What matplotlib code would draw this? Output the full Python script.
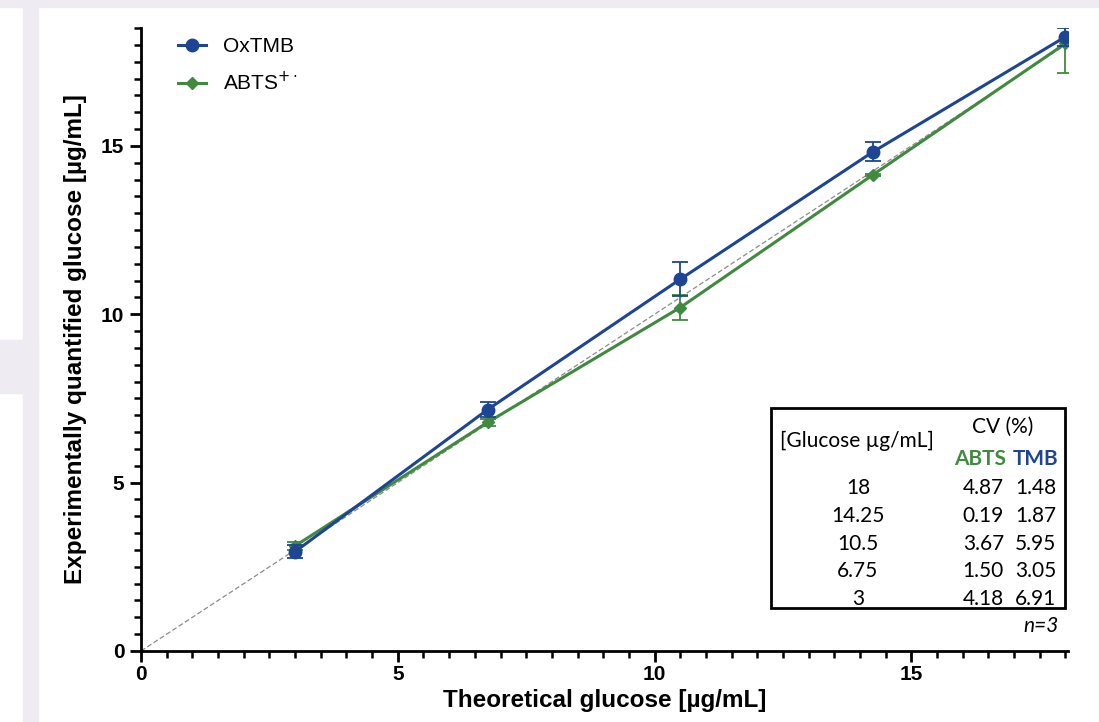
import numpy as np
import matplotlib.pyplot as plt
from matplotlib.patches import Rectangle
from matplotlib.ticker import MultipleLocator

# données
theo = [3, 6.75, 10.5, 14.25, 18]
tmb_mean = [2.95, 7.17, 11.04, 14.82, 18.24]
tmb_err = [0.20, 0.22, 0.50, 0.28, 0.27]
abts_mean = [3.12, 6.79, 10.20, 14.14, 18.04]
abts_err = [0.13, 0.10, 0.36, 0.03, 0.88]

# tableau des CV
conc_labels = ["18", "14.25", "10.5", "6.75", "3"]
cv_abts = ["4.87", "0.19", "3.67", "1.50", "4.18"]
cv_tmb = ["1.48", "1.87", "5.95", "3.05", "6.91"]

blue = "#1d4594"
green = "#3f8a3f"
lav = "#efebf3"

W, H = 1099, 722
fig = plt.figure(figsize=(W / 100, H / 100), dpi=100)
plt.rcParams['font.family'] = ['Liberation Sans', 'DejaVu Sans']

# bandes de fond (capture d'écran)
fig.patches.append(Rectangle((0, 1 - 7 / H), 1, 7 / H, transform=fig.transFigure, color=lav, zorder=0))
fig.patches.append(Rectangle((23 / W, 0), 15 / W, 1, transform=fig.transFigure, color=lav, zorder=0))
fig.patches.append(Rectangle((0, 1 - 393 / H), 38 / W, 53 / H, transform=fig.transFigure, color=lav, zorder=0))

ax = fig.add_axes([141 / W, 1 - 651 / H, (1068 - 141) / W, (651 - 28) / H])

ax.plot([0, 18], [0, 18], color="#8c8c8c", lw=0.9, ls=(0, (4, 2)), zorder=1)
ax.errorbar(theo, tmb_mean, yerr=tmb_err, fmt="none", ecolor=blue,
            capsize=6, elinewidth=1.3, capthick=1.3, zorder=3)
ax.errorbar(theo, abts_mean, yerr=abts_err, fmt="none", ecolor=green,
            capsize=6, elinewidth=1.3, capthick=1.3, zorder=2)
ax.plot(theo, tmb_mean, color=blue, lw=2.2, marker="o", ms=9, label="OxTMB", zorder=3)
ax.plot(theo, abts_mean, color=green, lw=2.2, marker="D", ms=6, label="ABTS$^{+\\cdot}$", zorder=2)

ax.set_xlim(0, 18.05)
ax.set_ylim(0, 18.5)
ax.xaxis.set_major_locator(MultipleLocator(5))
ax.xaxis.set_minor_locator(MultipleLocator(0.5))
ax.yaxis.set_major_locator(MultipleLocator(5))
ax.yaxis.set_minor_locator(MultipleLocator(0.5))
for s in ["top", "right"]:
    ax.spines[s].set_visible(False)
for s in ["left", "bottom"]:
    ax.spines[s].set_linewidth(2)
ax.tick_params(which="major", length=8, width=2, labelsize=15, pad=4)
ax.tick_params(axis="x", which="major", pad=2)
ax.tick_params(which="minor", length=5, width=1.8)
for lab in ax.get_xticklabels() + ax.get_yticklabels():
    lab.set_fontweight("bold")
ax.set_xlabel("Theoretical glucose [µg/mL]", fontsize=17.5, fontweight="bold", labelpad=4)
ax.set_ylabel("Experimentally quantified glucose [µg/mL]", fontsize=17.5, fontweight="bold", labelpad=10)

leg = ax.legend(loc="upper left", bbox_to_anchor=(0.02, 1.015), frameon=False, fontsize=15,
                handlelength=1.35, labelspacing=0.7, handletextpad=0.8)

# tableau CV
fig.patches.append(Rectangle((771 / W, 1 - 608 / H), (1065 - 771) / W, 200 / H,
                             transform=fig.transFigure, fill=False, ec="black", lw=2, zorder=5))
tf = ['Lato', 'DejaVu Sans']
def ftext(x, y, s, **kw):
    fig.text(x / W, 1 - y / H, s, family=tf, fontsize=15, va="center", **kw)

ftext(857, 441, "[Glucose µg/mL]", ha="center")
ftext(1003, 427, "CV (%)", ha="center")
ftext(980, 459, "ABTS", ha="center", color=green, fontweight="bold")
ftext(1036, 459, "TMB", ha="center", color=blue, fontweight="bold")
for i in range(len(conc_labels)):
    y = 488 + i * 27.8
    ftext(858, y, conc_labels[i], ha="center")
    ftext(1004, y, cv_abts[i], ha="right")
    ftext(1056, y, cv_tmb[i], ha="right")
ftext(1059, 626, "n=3", ha="right", style="italic")

fig.savefig("out.png", dpi=100)
